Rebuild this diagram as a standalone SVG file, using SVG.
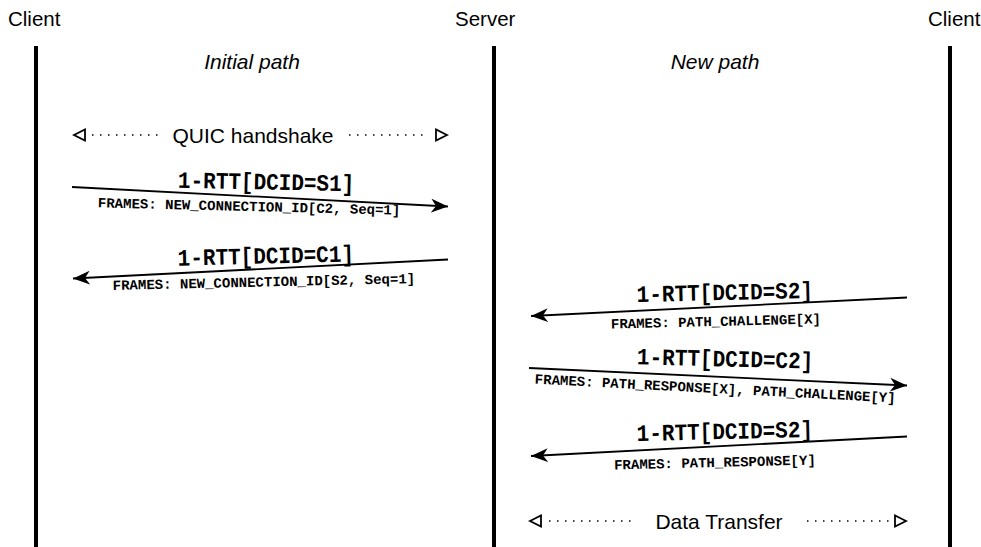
<svg xmlns="http://www.w3.org/2000/svg" width="981" height="547" viewBox="0 0 981 547">
<style>
.hdr{font-family:"Liberation Sans",Arial,sans-serif;font-size:20.5px;fill:#000}
.path{font-family:"Liberation Sans",Arial,sans-serif;font-size:21px;font-style:italic;fill:#000;text-anchor:middle}
.lbl{font-family:"Liberation Sans",Arial,sans-serif;font-size:21px;fill:#000;text-anchor:middle}
.main{font-family:"Liberation Mono","Courier New",monospace;font-size:21px;font-weight:bold;fill:#000;text-anchor:middle}
.sub{font-family:"Liberation Mono","Courier New",monospace;font-size:14px;font-weight:bold;fill:#000;text-anchor:middle;white-space:pre}
.life{stroke:#000;stroke-width:4}
.msg{stroke:#000;stroke-width:1.8;fill:none;marker-end:url(#ah)}
.dot{stroke:#000;stroke-width:1.5;stroke-dasharray:1.5 6.5;fill:none}
.tri{fill:#fff;stroke:#000;stroke-width:1.8}
</style>
<defs>
<marker id="ah" markerUnits="userSpaceOnUse" markerWidth="20" markerHeight="16" refX="17" refY="7" orient="auto">
<path d="M0,0 L17,7 L0,14 L5,7 Z" fill="#000"/>
</marker>
</defs>
<rect width="981" height="547" fill="#fff"/>
<g id="client-left">
<text class="hdr" x="8" y="26">Client</text>
<line class="life" x1="36" y1="46" x2="36" y2="547"/>
</g>
<g id="server">
<text class="hdr" x="455" y="26">Server</text>
<line class="life" x1="494" y1="46" x2="494" y2="547"/>
</g>
<g id="client-right">
<text class="hdr" x="928" y="26">Client</text>
<line class="life" x1="950" y1="46" x2="950" y2="547"/>
</g>
<g id="path-labels">
<text class="path" x="252" y="69">Initial path</text>
<text class="path" x="715" y="69">New path</text>
</g>
<g id="connectors">
<g id="quic-handshake">
<polygon class="tri" points="74,135 85,129.5 85,140.5"/>
<line class="dot" x1="92" y1="135" x2="158" y2="135"/>
<text class="lbl" x="253" y="142.5">QUIC handshake</text>
<line class="dot" x1="349" y1="135" x2="429" y2="135"/>
<polygon class="tri" points="447,135 436,129.5 436,140.5"/>
</g>
<g id="msg1">
<line class="msg" x1="72" y1="187" x2="448" y2="206.5"/>
<text class="main" transform="translate(266 189.5) rotate(1.2) scale(1 1.12)">1-RTT[DCID=S1]</text>
<text class="sub" x="249" y="211" transform="rotate(1.4 249 211)">FRAMES: NEW_CONNECTION_ID[C2, Seq=1]</text>
</g>
<g id="msg2">
<line class="msg" x1="448" y1="259.5" x2="73" y2="278.5"/>
<text class="main" transform="translate(266 263.5) rotate(-1.4) scale(1 1.12)">1-RTT[DCID=C1]</text>
<text class="sub" x="264" y="286.5" transform="rotate(-1.3 264 286.5)">FRAMES: NEW_CONNECTION_ID[S2, Seq=1]</text>
</g>
<g id="msg3">
<line class="msg" x1="907" y1="297.5" x2="531" y2="316"/>
<text class="main" transform="translate(725 300) rotate(-1.3) scale(1 1.12)">1-RTT[DCID=S2]</text>
<text class="sub" x="716" y="326" transform="rotate(-1.4 716 326)">FRAMES: PATH_CHALLENGE[X]</text>
</g>
<g id="msg4">
<line class="msg" x1="529" y1="368" x2="907" y2="385.5"/>
<text class="main" transform="translate(725 366.5) rotate(1.4) scale(1 1.12)">1-RTT[DCID=C2]</text>
<text class="sub" x="715" y="393" transform="rotate(3.0 715 393)">FRAMES: PATH_RESPONSE[X], PATH_CHALLENGE[Y]</text>
</g>
<g id="msg5">
<line class="msg" x1="907" y1="436.5" x2="531" y2="456"/>
<text class="main" transform="translate(725 439) rotate(-1.3) scale(1 1.12)">1-RTT[DCID=S2]</text>
<text class="sub" x="715" y="467" transform="rotate(-1.4 715 467)">FRAMES: PATH_RESPONSE[Y]</text>
</g>
<g id="data-transfer">
<polygon class="tri" points="530,521 541,515.5 541,526.5"/>
<line class="dot" x1="549" y1="521" x2="636" y2="521"/>
<text class="lbl" x="719" y="528.5">Data Transfer</text>
<line class="dot" x1="807" y1="521" x2="889" y2="521"/>
<polygon class="tri" points="906,521 895,515.5 895,526.5"/>
</g>
</g>
</svg>
